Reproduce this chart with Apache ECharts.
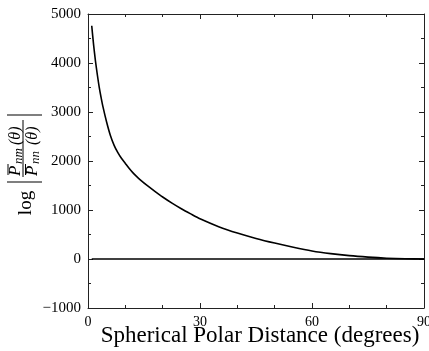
<!DOCTYPE html>
<html>
<head>
<meta charset="utf-8">
<style>
  html, body { margin: 0; padding: 0; background: #fff; }
  #chart { width: 429px; height: 351px; }
</style>
<script src="https://cdn.jsdelivr.net/npm/echarts@6/dist/echarts.min.js"></script>
</head>
<body>
<div id="chart"></div>
<script>
// Polar distance (degrees) and ratio curve values
const distance = [1, 1.5, 2, 2.5, 3, 3.5, 4, 5, 6, 7, 8, 9, 10, 11, 12, 13, 14, 16, 18, 20, 22.5, 25, 27.5, 30, 35, 40, 45, 50, 55, 60, 65, 70, 75, 80, 85, 90];
const ratioValues = [4760, 4370, 4040, 3760, 3510, 3300, 3110, 2790, 2520, 2320, 2170, 2050, 1950, 1850, 1762, 1685, 1615, 1490, 1375, 1265, 1140, 1025, 920, 820, 660, 530, 420, 325, 240, 165, 110, 68, 38, 16, 4, 0];
// Flat reference line
const baseDistance = [1, 90];
const baseValues = [0, 0];

const SERIF = '"Liberation Serif", "DejaVu Serif", serif';
const AXIS_COLOR = '#222';

const chart = echarts.init(document.getElementById('chart'), null, { renderer: 'canvas' });

function pairs(xs, ys) { return xs.map((x, i) => [x, ys[i]]); }

function frameAxis(extra) {
  return Object.assign({
    type: 'value',
    axisLine: { show: true, onZero: false, lineStyle: { color: AXIS_COLOR, width: 1 } },
    axisTick: { show: true, inside: true, length: 5, lineStyle: { color: AXIS_COLOR } },
    splitLine: { show: false },
    minorSplitLine: { show: false }
  }, extra);
}

// Rotated y-axis title: log |P̄nm(θ) / P̄nn(θ)|
const lblGroup = {
  type: 'group',
  x: 25, y: 150,
  rotation: Math.PI / 2,
  children: [
    { type: 'text', x: -53, y: 1, style: { text: 'log', font: '19px ' + SERIF, fill: '#000', align: 'center', verticalAlign: 'middle' } },
    // absolute value bars
    { type: 'line', shape: { x1: -32, y1: -18, x2: -32, y2: 17 }, style: { stroke: '#000', lineWidth: 1.2 } },
    { type: 'line', shape: { x1: 35, y1: -18, x2: 35, y2: 17 }, style: { stroke: '#000', lineWidth: 1.2 } },
    // fraction bar
    { type: 'line', shape: { x1: -27, y1: -2, x2: 30, y2: -2 }, style: { stroke: '#000', lineWidth: 1 } },
    // numerator
    { type: 'text', x: -26, y: -9, style: { text: 'P', font: 'italic 17px ' + SERIF, fill: '#000', align: 'left', verticalAlign: 'middle' } },
    { type: 'line', shape: { x1: -25, y1: -17, x2: -14, y2: -17 }, style: { stroke: '#000', lineWidth: 1 } },
    { type: 'text', x: -14, y: -6, style: { text: 'nm', font: 'italic 13px ' + SERIF, fill: '#000', align: 'left', verticalAlign: 'middle' } },
    { type: 'text', x: 5, y: -9, style: { text: '(θ)', font: 'italic 16px ' + SERIF, fill: '#000', align: 'left', verticalAlign: 'middle' } },
    // denominator
    { type: 'text', x: -26, y: 8, style: { text: 'P', font: 'italic 17px ' + SERIF, fill: '#000', align: 'left', verticalAlign: 'middle' } },
    { type: 'line', shape: { x1: -25, y1: 0.5, x2: -14, y2: 0.5 }, style: { stroke: '#000', lineWidth: 1 } },
    { type: 'text', x: -14, y: 11, style: { text: 'nn', font: 'italic 13px ' + SERIF, fill: '#000', align: 'left', verticalAlign: 'middle' } },
    { type: 'text', x: 5, y: 8, style: { text: '(θ)', font: 'italic 16px ' + SERIF, fill: '#000', align: 'left', verticalAlign: 'middle' } }
  ]
};

const option = {
  animation: false,
  backgroundColor: '#fff',
  grid: { left: 88, right: 5, top: 14, bottom: 43, containLabel: false, outerBoundsMode: 'none' },
  xAxis: [
    frameAxis({
      min: 0, max: 90, interval: 30, position: 'bottom',
      minorTick: { show: true, splitNumber: 3, length: 3, lineStyle: { color: AXIS_COLOR } },
      axisLabel: { show: true, color: '#000', fontFamily: SERIF, fontSize: 14, margin: 7, hideOverlap: false }
    }),
    frameAxis({
      min: 0, max: 90, interval: 30, position: 'top',
      minorTick: { show: true, splitNumber: 3, length: 3, lineStyle: { color: AXIS_COLOR } },
      axisLabel: { show: false }
    })
  ],
  yAxis: [
    frameAxis({
      min: -1000, max: 5000, interval: 1000, position: 'left',
      minorTick: { show: true, splitNumber: 2, length: 3, lineStyle: { color: AXIS_COLOR } },
      axisLabel: { show: true, color: '#000', fontFamily: SERIF, fontSize: 15, margin: 7,
        formatter: v => (v < 0 ? '\u2212' + Math.abs(v) : String(v)) }
    }),
    frameAxis({
      min: -1000, max: 5000, interval: 1000, position: 'right',
      minorTick: { show: true, splitNumber: 2, length: 3, lineStyle: { color: AXIS_COLOR } },
      axisLabel: { show: false }
    })
  ],
  series: [
    {
      type: 'line', xAxisIndex: 0, yAxisIndex: 0,
      data: pairs(distance, ratioValues),
      smooth: 0.25, showSymbol: false,
      lineStyle: { color: '#000', width: 1.6 }
    },
    {
      type: 'line', xAxisIndex: 0, yAxisIndex: 0,
      data: pairs(baseDistance, baseValues),
      showSymbol: false,
      lineStyle: { color: '#000', width: 1.6 }
    }
  ],
  graphic: [
    lblGroup,
    { type: 'text', x: 260, y: 336, style: { text: 'Spherical Polar Distance (degrees)', font: '23px ' + SERIF, fill: '#000', align: 'center', verticalAlign: 'middle' } }
  ]
};

chart.setOption(option);
</script>
</body>
</html>
